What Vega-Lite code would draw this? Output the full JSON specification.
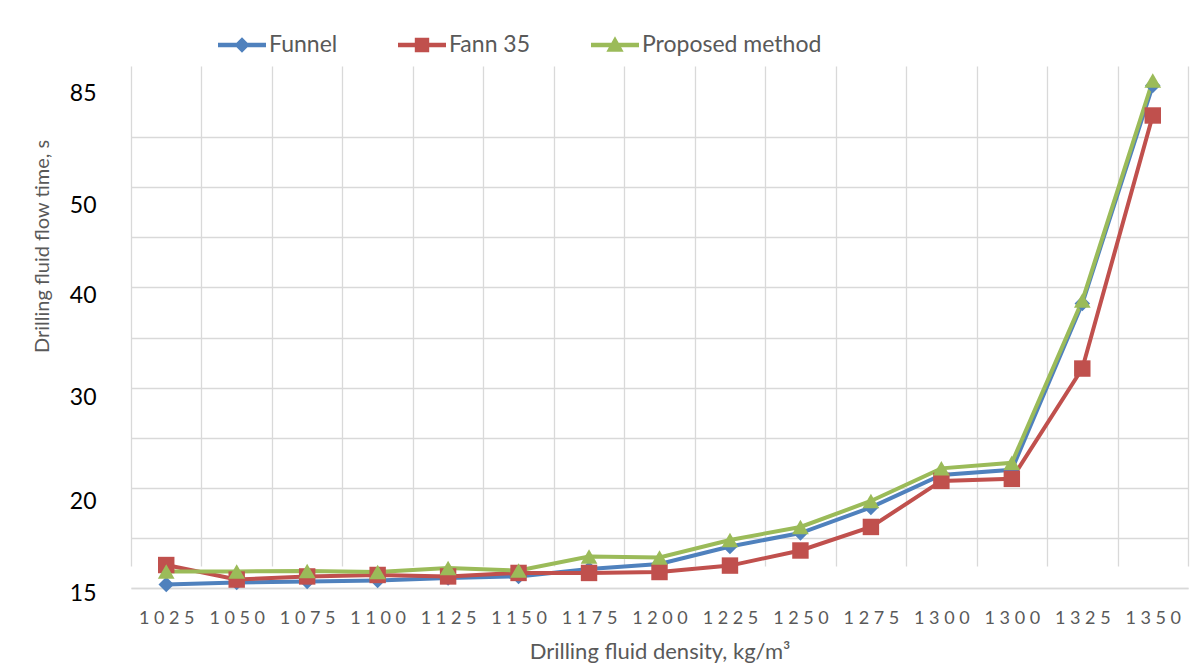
{
  "$schema": "https://vega.github.io/schema/vega-lite/v6.json",
  "width": 1057,
  "height": 517,
  "autosize": {"type": "none"},
  "padding": {"left": 131, "top": 71, "right": 2, "bottom": 80},
  "background": "white",
  "config": {"font": "Lato", "view": {"stroke": null}},
  "data": {
    "values": [
      {"idx": 0, "density": "1025", "series": "Funnel", "time": 15.46},
      {"idx": 1, "density": "1050", "series": "Funnel", "time": 15.57},
      {"idx": 2, "density": "1075", "series": "Funnel", "time": 15.62},
      {"idx": 3, "density": "1100", "series": "Funnel", "time": 15.68},
      {"idx": 4, "density": "1125", "series": "Funnel", "time": 15.82},
      {"idx": 5, "density": "1150", "series": "Funnel", "time": 15.90},
      {"idx": 6, "density": "1175", "series": "Funnel", "time": 16.30},
      {"idx": 7, "density": "1200", "series": "Funnel", "time": 16.58},
      {"idx": 8, "density": "1225", "series": "Funnel", "time": 17.53},
      {"idx": 9, "density": "1250", "series": "Funnel", "time": 18.26},
      {"idx": 10, "density": "1275", "series": "Funnel", "time": 19.65},
      {"idx": 11, "density": "1300", "series": "Funnel", "time": 22.51},
      {"idx": 12, "density": "1300", "series": "Funnel", "time": 23.00},
      {"idx": 13, "density": "1325", "series": "Funnel", "time": 39.17},
      {"idx": 14, "density": "1350", "series": "Funnel", "time": 87.34},
      {"idx": 0, "density": "1025", "series": "Fann 35", "time": 16.52},
      {"idx": 1, "density": "1050", "series": "Fann 35", "time": 15.73},
      {"idx": 2, "density": "1075", "series": "Fann 35", "time": 15.90},
      {"idx": 3, "density": "1100", "series": "Fann 35", "time": 15.98},
      {"idx": 4, "density": "1125", "series": "Fann 35", "time": 15.90},
      {"idx": 5, "density": "1150", "series": "Fann 35", "time": 16.09},
      {"idx": 6, "density": "1175", "series": "Fann 35", "time": 16.09},
      {"idx": 7, "density": "1200", "series": "Fann 35", "time": 16.14},
      {"idx": 8, "density": "1225", "series": "Fann 35", "time": 16.49},
      {"idx": 9, "density": "1250", "series": "Fann 35", "time": 17.31},
      {"idx": 10, "density": "1275", "series": "Fann 35", "time": 18.59},
      {"idx": 11, "density": "1300", "series": "Fann 35", "time": 21.93},
      {"idx": 12, "density": "1300", "series": "Fann 35", "time": 22.13},
      {"idx": 13, "density": "1325", "series": "Fann 35", "time": 32.79},
      {"idx": 14, "density": "1350", "series": "Fann 35", "time": 77.97},
      {"idx": 0, "density": "1025", "series": "Proposed method", "time": 16.17},
      {"idx": 1, "density": "1050", "series": "Proposed method", "time": 16.17},
      {"idx": 2, "density": "1075", "series": "Proposed method", "time": 16.20},
      {"idx": 3, "density": "1100", "series": "Proposed method", "time": 16.14},
      {"idx": 4, "density": "1125", "series": "Proposed method", "time": 16.36},
      {"idx": 5, "density": "1150", "series": "Proposed method", "time": 16.22},
      {"idx": 6, "density": "1175", "series": "Proposed method", "time": 16.98},
      {"idx": 7, "density": "1200", "series": "Proposed method", "time": 16.93},
      {"idx": 8, "density": "1225", "series": "Proposed method", "time": 17.88},
      {"idx": 9, "density": "1250", "series": "Proposed method", "time": 18.59},
      {"idx": 10, "density": "1275", "series": "Proposed method", "time": 20.00},
      {"idx": 11, "density": "1300", "series": "Proposed method", "time": 23.14},
      {"idx": 12, "density": "1300", "series": "Proposed method", "time": 23.67},
      {"idx": 13, "density": "1325", "series": "Proposed method", "time": 39.46},
      {"idx": 14, "density": "1350", "series": "Proposed method", "time": 88.91}
    ]
  },
  "encoding": {
    "x": {
      "field": "idx",
      "type": "ordinal",
      "scale": {"type": "band", "paddingInner": 0, "paddingOuter": 0},
      "axis": {
        "labelExpr": "datum.value >= 0 && datum.value <= 14 ? join(split(['1025','1050','1075','1100','1125','1150','1175','1200','1225','1250','1275','1300','1300','1325','1350'][datum.value], ''), ' ') : ''",
        "labelAngle": 0,
        "labelFont": "Lato",
        "labelFontSize": 18,
        "labelColor": "#595959",
        "labelPadding": 21,
        "tickBand": "extent",
        "ticks": false,
        "grid": true,
        "gridColor": "#D9D9D9",
        "gridWidth": 1.3,
        "domainColor": "#D9D9D9",
        "domainWidth": 1.3,
        "title": "Drilling fluid density, kg/m³",
        "titleFont": "Lato",
        "titleFontSize": 22,
        "titleFontWeight": "normal",
        "titleColor": "#595959",
        "titlePadding": 14
      }
    },
    "color": {
      "field": "series",
      "type": "nominal",
      "scale": {
        "domain": ["Funnel", "Fann 35", "Proposed method"],
        "range": ["#4F81BD", "#C0504D", "#9BBB59"]
      },
      "legend": {
        "orient": "none",
        "legendX": 87,
        "legendY": -50,
        "direction": "horizontal",
        "title": null,
        "symbolSize": 2304,
        "symbolStrokeWidth": 0,
        "labelFont": "Lato",
        "labelFontSize": 23,
        "labelColor": "#595959",
        "labelLimit": 400,
        "labelOffset": 3,
        "columnPadding": 60,
        "encode": {
          "entries": {
            "update": {
              "x": {"signal": "datum.index === 0 ? 0 : datum.index === 1 ? 155 : 395"}
            }
          },
          "symbols": {
            "update": {
              "shape": {"signal": "datum.value === 'Funnel' ? 'M-1,-0.09H1V0.09H-1Z M0,-0.32L0.32,0L0,0.32L-0.32,0Z' : datum.value === 'Fann 35' ? 'M-1,-0.09H1V0.09H-1Z M-0.3,-0.3H0.3V0.3H-0.3Z' : 'M-1,-0.09H1V0.09H-1Z M0,-0.36L0.36,0.28L-0.36,0.28Z'"},
              "fill": {"scale": "color", "field": "value"},
              "strokeWidth": {"value": 0},
              "opacity": {"value": 1}
            }
          }
        }
      }
    }
  },
  "layer": [
    {
      "mark": {"type": "line", "strokeWidth": 4},
      "encoding": {
        "y": {
          "field": "time",
          "type": "quantitative",
          "scale": {
            "domain": [15, 20, 30, 40, 50, 85],
            "range": [522, 430, 326, 224, 134, 22],
            "zero": false,
            "nice": false
          },
          "axis": {
            "orient": "left",
            "values": [15.27, 17.99, 21.26, 26.09, 30.93, 35.83, 40.84, 46.43, 55.63, 71.25, 86.88],
            "labels": false,
            "ticks": false,
            "domain": false,
            "grid": true,
            "gridColor": "#D9D9D9",
            "gridWidth": 1.3,
            "title": null
          }
        }
      }
    },
    {
      "transform": [{"filter": "datum.series === 'Funnel'"}],
      "mark": {"type": "point", "shape": "diamond", "filled": true, "opacity": 1, "size": 240},
      "encoding": {
        "y": {
          "field": "time",
          "type": "quantitative",
          "axis": {
            "orient": "left",
            "values": [15, 20, 30, 40, 50, 85],
            "grid": false,
            "ticks": false,
            "domain": false,
            "labelAlign": "right",
            "labelBaseline": "middle",
            "labelPadding": 35,
            "labelFont": "Lato",
            "labelFontSize": 23,
            "labelColor": "#000000",
            "title": "Drilling fluid flow time, s",
            "titleFont": "Lato",
            "titleFontSize": 20,
            "titleFontWeight": "normal",
            "titleColor": "#595959",
            "titleBaseline": "middle",
            "titleX": -89,
            "titleY": 175
          }
        }
      }
    },
    {
      "transform": [{"filter": "datum.series === 'Fann 35'"}],
      "mark": {"type": "point", "shape": "square", "filled": true, "opacity": 1, "size": 270},
      "encoding": {
        "y": {"field": "time", "type": "quantitative", "axis": null}
      }
    },
    {
      "transform": [{"filter": "datum.series === 'Proposed method'"}],
      "mark": {"type": "point", "shape": "triangle-up", "filled": true, "opacity": 1, "size": 280},
      "encoding": {
        "y": {"field": "time", "type": "quantitative", "axis": null}
      }
    }
  ],
  "resolve": {"axis": {"y": "independent"}}
}
